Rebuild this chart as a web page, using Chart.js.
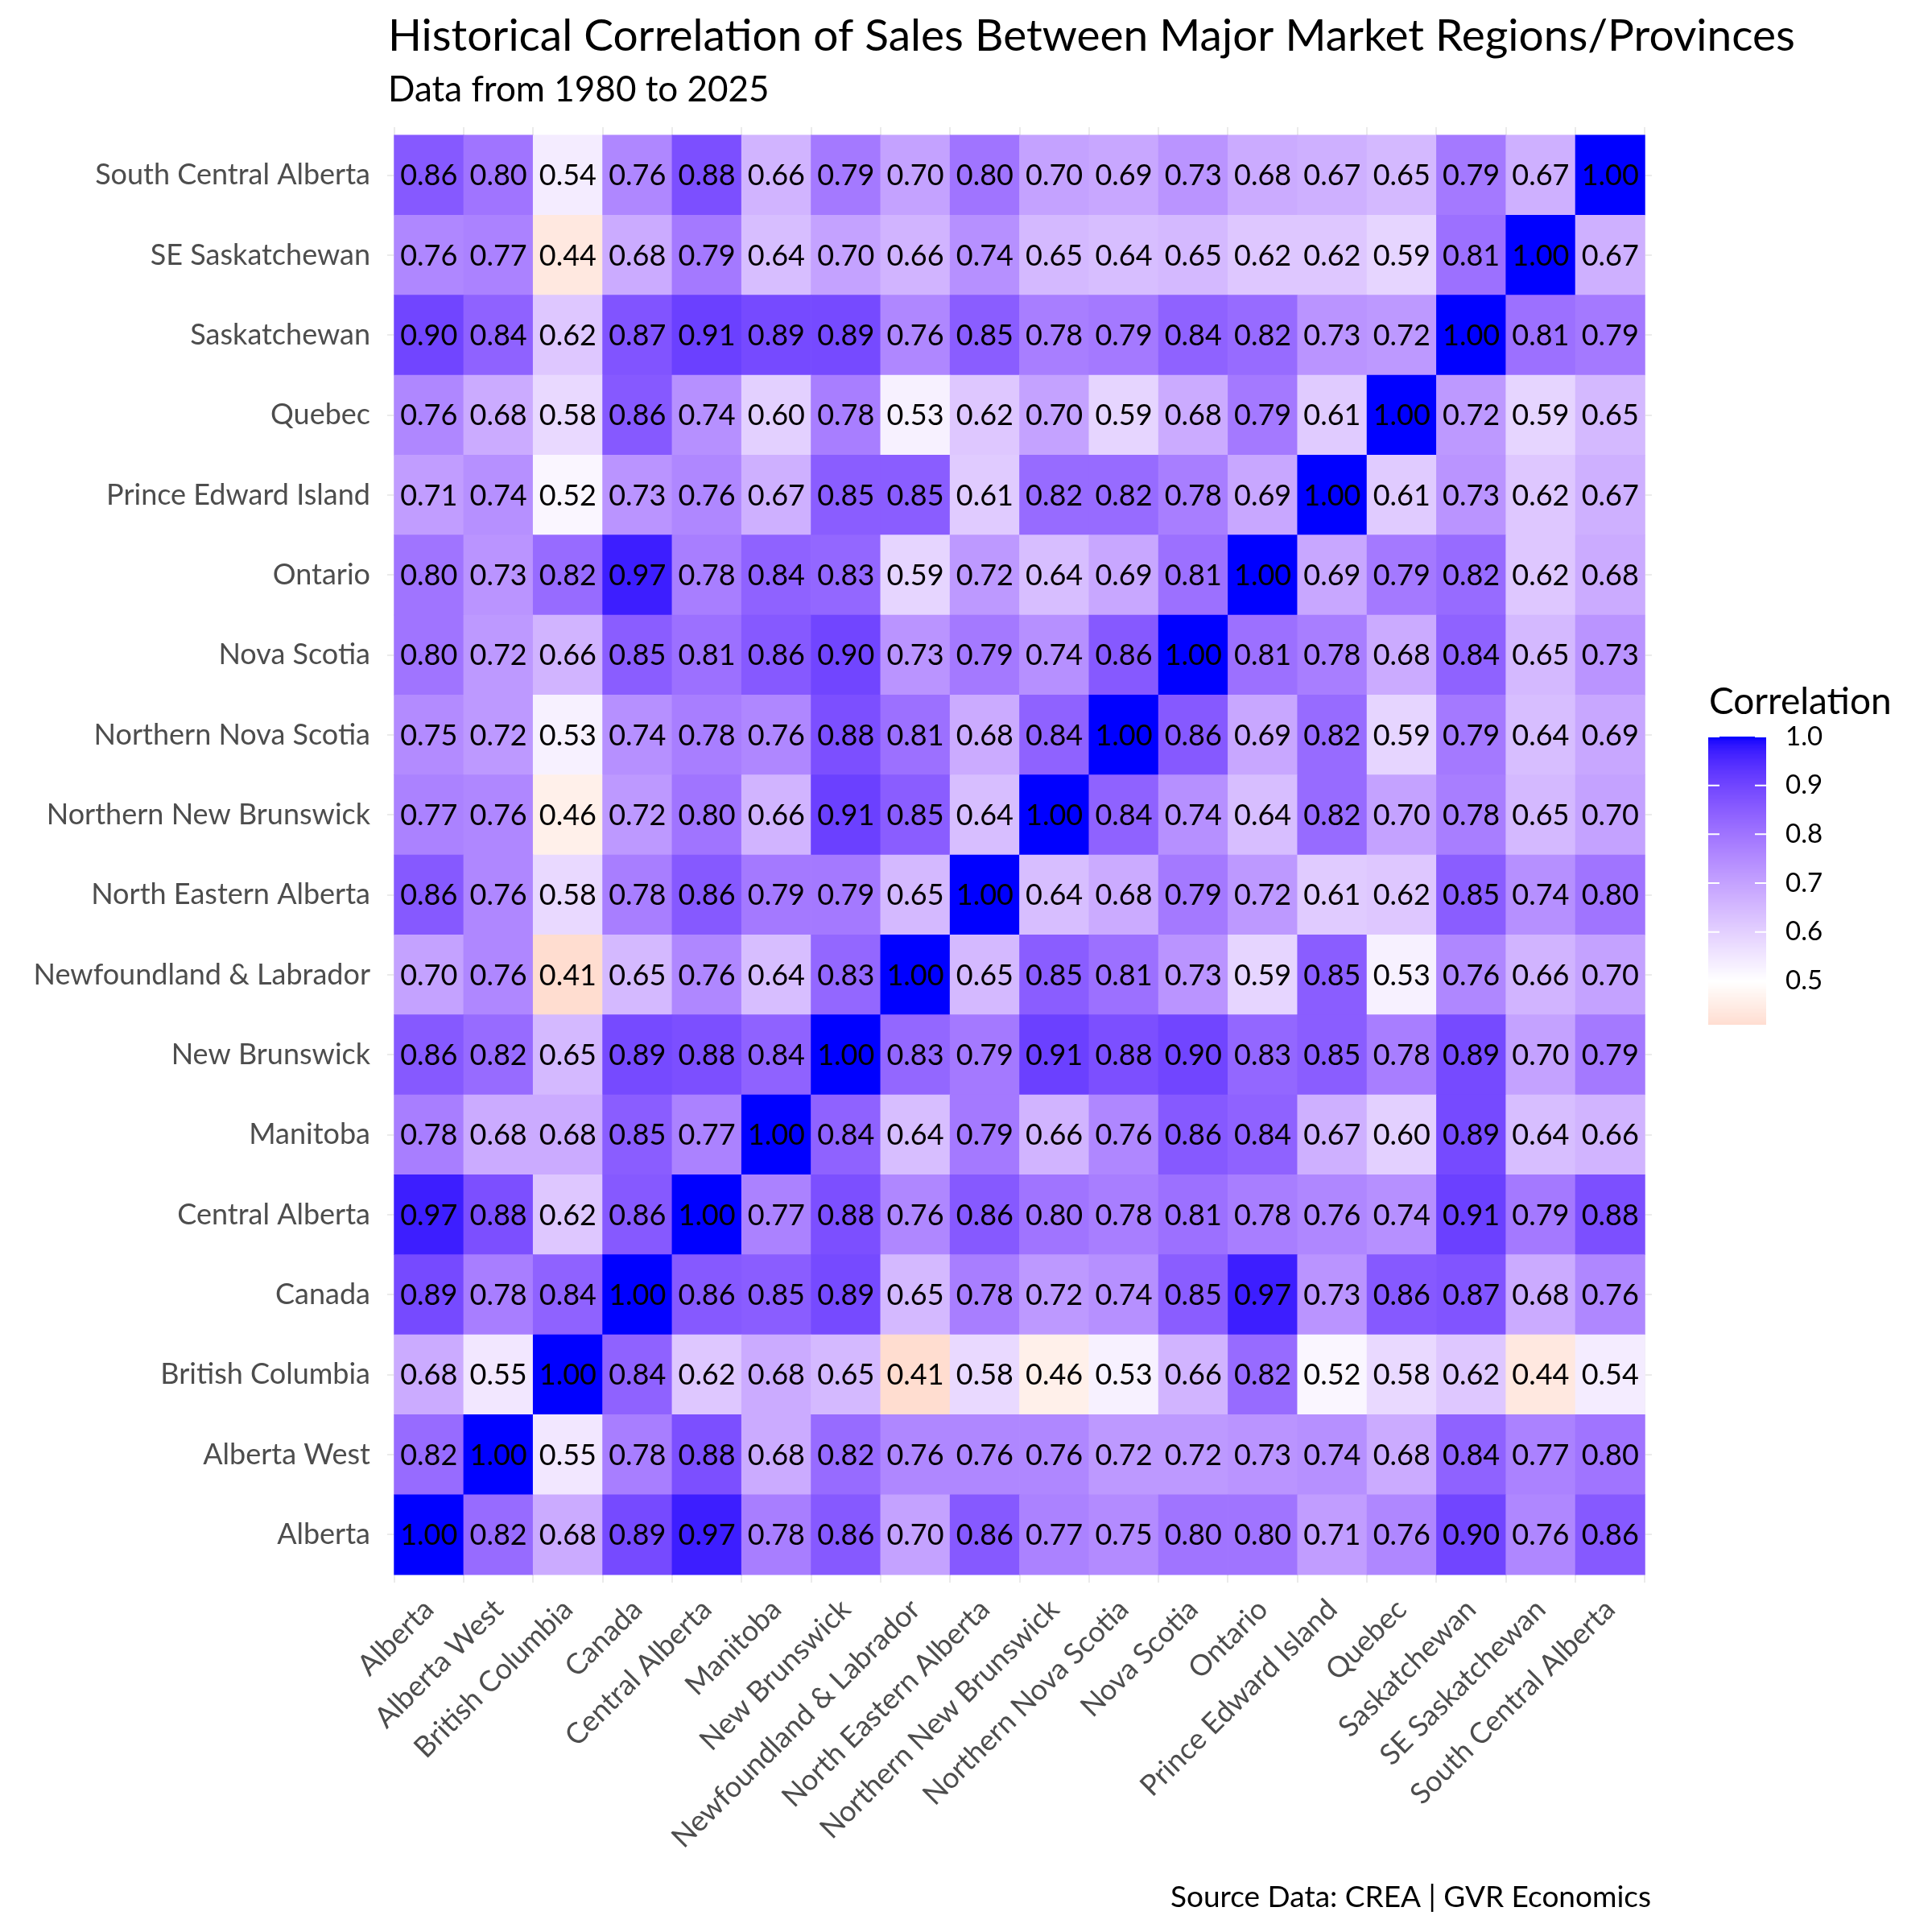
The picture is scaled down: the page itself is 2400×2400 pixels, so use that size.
<!DOCTYPE html>
<html><head><meta charset="utf-8">
<script src="https://cdn.jsdelivr.net/npm/chart.js@4.4.0/dist/chart.umd.min.js"></script>
<style>html,body{margin:0;padding:0;background:#fff}#wrap{width:2400px;height:2400px}</style>
</head><body><div id="wrap"><canvas id="c" width="2400" height="2400"></canvas></div>
<script>
// Categories (bottom-to-top on y, left-to-right on x)
const regions = ["Alberta","Alberta West","British Columbia","Canada","Central Alberta","Manitoba","New Brunswick","Newfoundland & Labrador","North Eastern Alberta","Northern New Brunswick","Northern Nova Scotia","Nova Scotia","Ontario","Prince Edward Island","Quebec","Saskatchewan","SE Saskatchewan","South Central Alberta"];

// Correlation rows (one per region, columns in the order of `regions`)
const rowAlberta            = [1.00,0.82,0.68,0.89,0.97,0.78,0.86,0.70,0.86,0.77,0.75,0.80,0.80,0.71,0.76,0.90,0.76,0.86];
const rowAlbertaWest        = [0.82,1.00,0.55,0.78,0.88,0.68,0.82,0.76,0.76,0.76,0.72,0.72,0.73,0.74,0.68,0.84,0.77,0.80];
const rowBritishColumbia    = [0.68,0.55,1.00,0.84,0.62,0.68,0.65,0.41,0.58,0.46,0.53,0.66,0.82,0.52,0.58,0.62,0.44,0.54];
const rowCanada             = [0.89,0.78,0.84,1.00,0.86,0.85,0.89,0.65,0.78,0.72,0.74,0.85,0.97,0.73,0.86,0.87,0.68,0.76];
const rowCentralAlberta     = [0.97,0.88,0.62,0.86,1.00,0.77,0.88,0.76,0.86,0.80,0.78,0.81,0.78,0.76,0.74,0.91,0.79,0.88];
const rowManitoba           = [0.78,0.68,0.68,0.85,0.77,1.00,0.84,0.64,0.79,0.66,0.76,0.86,0.84,0.67,0.60,0.89,0.64,0.66];
const rowNewBrunswick       = [0.86,0.82,0.65,0.89,0.88,0.84,1.00,0.83,0.79,0.91,0.88,0.90,0.83,0.85,0.78,0.89,0.70,0.79];
const rowNewfoundland       = [0.70,0.76,0.41,0.65,0.76,0.64,0.83,1.00,0.65,0.85,0.81,0.73,0.59,0.85,0.53,0.76,0.66,0.70];
const rowNorthEasternAlberta= [0.86,0.76,0.58,0.78,0.86,0.79,0.79,0.65,1.00,0.64,0.68,0.79,0.72,0.61,0.62,0.85,0.74,0.80];
const rowNorthernNB         = [0.77,0.76,0.46,0.72,0.80,0.66,0.91,0.85,0.64,1.00,0.84,0.74,0.64,0.82,0.70,0.78,0.65,0.70];
const rowNorthernNS         = [0.75,0.72,0.53,0.74,0.78,0.76,0.88,0.81,0.68,0.84,1.00,0.86,0.69,0.82,0.59,0.79,0.64,0.69];
const rowNovaScotia         = [0.80,0.72,0.66,0.85,0.81,0.86,0.90,0.73,0.79,0.74,0.86,1.00,0.81,0.78,0.68,0.84,0.65,0.73];
const rowOntario            = [0.80,0.73,0.82,0.97,0.78,0.84,0.83,0.59,0.72,0.64,0.69,0.81,1.00,0.69,0.79,0.82,0.62,0.68];
const rowPEI                = [0.71,0.74,0.52,0.73,0.76,0.67,0.85,0.85,0.61,0.82,0.82,0.78,0.69,1.00,0.61,0.73,0.62,0.67];
const rowQuebec             = [0.76,0.68,0.58,0.86,0.74,0.60,0.78,0.53,0.62,0.70,0.59,0.68,0.79,0.61,1.00,0.72,0.59,0.65];
const rowSaskatchewan       = [0.90,0.84,0.62,0.87,0.91,0.89,0.89,0.76,0.85,0.78,0.79,0.84,0.82,0.73,0.72,1.00,0.81,0.79];
const rowSESaskatchewan     = [0.76,0.77,0.44,0.68,0.79,0.64,0.70,0.66,0.74,0.65,0.64,0.65,0.62,0.62,0.59,0.81,1.00,0.67];
const rowSouthCentralAlberta= [0.86,0.80,0.54,0.76,0.88,0.66,0.79,0.70,0.80,0.70,0.69,0.73,0.68,0.67,0.65,0.79,0.67,1.00];

const legendBreaks = [0.5,0.6,0.7,0.8,0.9,1.0];
const legendLabels = ["0.5","0.6","0.7","0.8","0.9","1.0"];
const legendMin = 0.41, legendMax = 1.0;

const rows = [rowAlberta,rowAlbertaWest,rowBritishColumbia,rowCanada,rowCentralAlberta,rowManitoba,rowNewBrunswick,rowNewfoundland,rowNorthEasternAlberta,rowNorthernNB,rowNorthernNS,rowNovaScotia,rowOntario,rowPEI,rowQuebec,rowSaskatchewan,rowSESaskatchewan,rowSouthCentralAlberta];

// ---- colour scale: diverging red-white-blue in CIELAB, midpoint 0.5 ----
function s2l(c){c/=255;return c<=0.04045?c/12.92:Math.pow((c+0.055)/1.055,2.4);}
function l2s(c){c=c<=0.0031308?12.92*c:1.055*Math.pow(c,1/2.4)-0.055;return Math.round(Math.max(0,Math.min(1,c))*255);}
const Xn=0.95047,Yn=1,Zn=1.08883;
function fl(t){return t>0.008856?Math.cbrt(t):7.787*t+16/116;}
function fi(t){return t>0.206893?t*t*t:(t-16/116)/7.787;}
function rgb2lab(r,g,b){const R=s2l(r),G=s2l(g),B=s2l(b);
  const X=0.4124*R+0.3576*G+0.1805*B,Y=0.2126*R+0.7152*G+0.0722*B,Z=0.0193*R+0.1192*G+0.9505*B;
  const fx=fl(X/Xn),fy=fl(Y/Yn),fz=fl(Z/Zn);return [116*fy-16,500*(fx-fy),200*(fy-fz)];}
function lab2rgb(L,a,b){const fy=(L+16)/116,fx=fy+a/500,fz=fy-b/200;
  const X=Xn*fi(fx),Y=Yn*fi(fy),Z=Zn*fi(fz);
  return [l2s(3.2406*X-1.5372*Y-0.4986*Z),l2s(-0.9689*X+1.8758*Y+0.0415*Z),l2s(0.0557*X-0.2040*Y+1.0570*Z)];}
const labLow=rgb2lab(255,0,0),labMid=rgb2lab(255,255,255),labHigh=rgb2lab(0,0,255);
function colorFor(v){
  let t=v, A, B, f;
  if(t<0.5){A=labMid;B=labLow;f=(0.5-t)/0.5;} else {A=labMid;B=labHigh;f=(t-0.5)/0.5;}
  f=Math.max(0,Math.min(1,f));
  const c=lab2rgb(A[0]+(B[0]-A[0])*f,A[1]+(B[1]-A[1])*f,A[2]+(B[2]-A[2])*f);
  return 'rgb('+c[0]+','+c[1]+','+c[2]+')';
}

const FONT='Lato';
const datasets = rows.map((row, r) => ({
  label: regions[r],
  data: row.map((v, c) => ({x: c, y: [r - 0.5, r + 0.5], v: v})),
  backgroundColor: ctx => colorFor(ctx.raw.v),
  borderWidth: 0,
  grouped: false,
  categoryPercentage: 1,
  barPercentage: 1
}));

const cellLabels = {
  id: 'cellLabels',
  afterDatasetsDraw(chart) {
    const ctx = chart.ctx;
    ctx.save();
    ctx.fillStyle = '#000';
    ctx.font = '36px ' + FONT;
    ctx.textAlign = 'center';
    ctx.textBaseline = 'middle';
    chart.data.datasets.forEach((ds, di) => {
      const meta = chart.getDatasetMeta(di);
      meta.data.forEach((el, i) => {
        const p = el.getProps(['x', 'y', 'base'], true);
        ctx.fillText(ds.data[i].v.toFixed(2), p.x, (p.y + p.base) / 2 + 1);
      });
    });
    ctx.restore();
  }
};

const decorations = {
  id: 'decorations',
  afterDraw(chart) {
    const ctx = chart.ctx;
    ctx.save();
    ctx.fillStyle = '#000';
    ctx.textBaseline = 'middle';
    ctx.textAlign = 'left';
    ctx.font = '55px ' + FONT;
    ctx.fillText('Historical Correlation of Sales Between Major Market Regions/Provinces', 482, 45);
    ctx.font = '44px ' + FONT;
    ctx.fillText('Data from 1980 to 2025', 482, 112);
    ctx.textAlign = 'right';
    ctx.font = '37px ' + FONT;
    ctx.fillText('Source Data: CREA | GVR Economics', 2051, 2357);

    // legend colourbar
    const bx = 2122, bw = 72, top = 915, bottom = 1273;
    const yFor = v => bottom - (v - legendMin) / (legendMax - legendMin) * (bottom - top);
    const n = 300;
    for (let i = 0; i < n; i++) {
      const v0 = legendMin + (legendMax - legendMin) * i / n;
      const v1 = legendMin + (legendMax - legendMin) * (i + 1) / n;
      ctx.fillStyle = colorFor((v0 + v1) / 2);
      const y0 = yFor(v1), y1 = yFor(v0);
      ctx.fillRect(bx, Math.floor(y0), bw, Math.ceil(y1) - Math.floor(y0));
    }
    ctx.strokeStyle = '#fff';
    ctx.lineWidth = 2;
    ctx.textAlign = 'left';
    ctx.fillStyle = '#000';
    ctx.font = '33px ' + FONT;
    legendBreaks.forEach((b, i) => {
      const y = yFor(b);
      ctx.beginPath();
      ctx.moveTo(bx, y); ctx.lineTo(bx + 14, y);
      ctx.moveTo(bx + bw - 14, y); ctx.lineTo(bx + bw, y);
      ctx.stroke();
      ctx.fillText(legendLabels[i], 2218, y);
    });
    ctx.font = '46px ' + FONT;
    ctx.fillText('Correlation', 2123, 872);
    ctx.restore();
  }
};

new Chart(document.getElementById('c'), {
  type: 'bar',
  data: {datasets},
  options: {
    responsive: false,
    animation: false,
    devicePixelRatio: 1,
    layout: {padding: {left: 0, right: 348, top: 158, bottom: 0}},
    plugins: {legend: {display: false}, title: {display: false}, tooltip: {enabled: false}},
    scales: {
      x: {
        type: 'linear', min: -0.6, max: 17.6, offset: false,
        afterBuildTicks: s => { s.ticks = regions.map((_, i) => ({value: i})); },
        afterFit: s => { s.height = 434; },
        grid: {color: '#EBEBEB', lineWidth: 2, drawTicks: false},
        border: {display: false},
        ticks: {autoSkip: false, minRotation: 45, maxRotation: 45, padding: 12, color: '#4D4D4D',
          font: {family: FONT, size: 36}, callback: v => regions[v]}
      },
      y: {
        type: 'linear', min: -0.6, max: 17.6,
        afterBuildTicks: s => { s.ticks = regions.map((_, i) => ({value: i})); },
        afterFit: s => { s.width = 481; },
        grid: {color: '#EBEBEB', lineWidth: 2, drawTicks: false},
        border: {display: false},
        ticks: {autoSkip: false, padding: 21, color: '#4D4D4D',
          font: {family: FONT, size: 36}, callback: v => regions[v]}
      }
    }
  },
  plugins: [cellLabels, decorations]
});
</script></body></html>
